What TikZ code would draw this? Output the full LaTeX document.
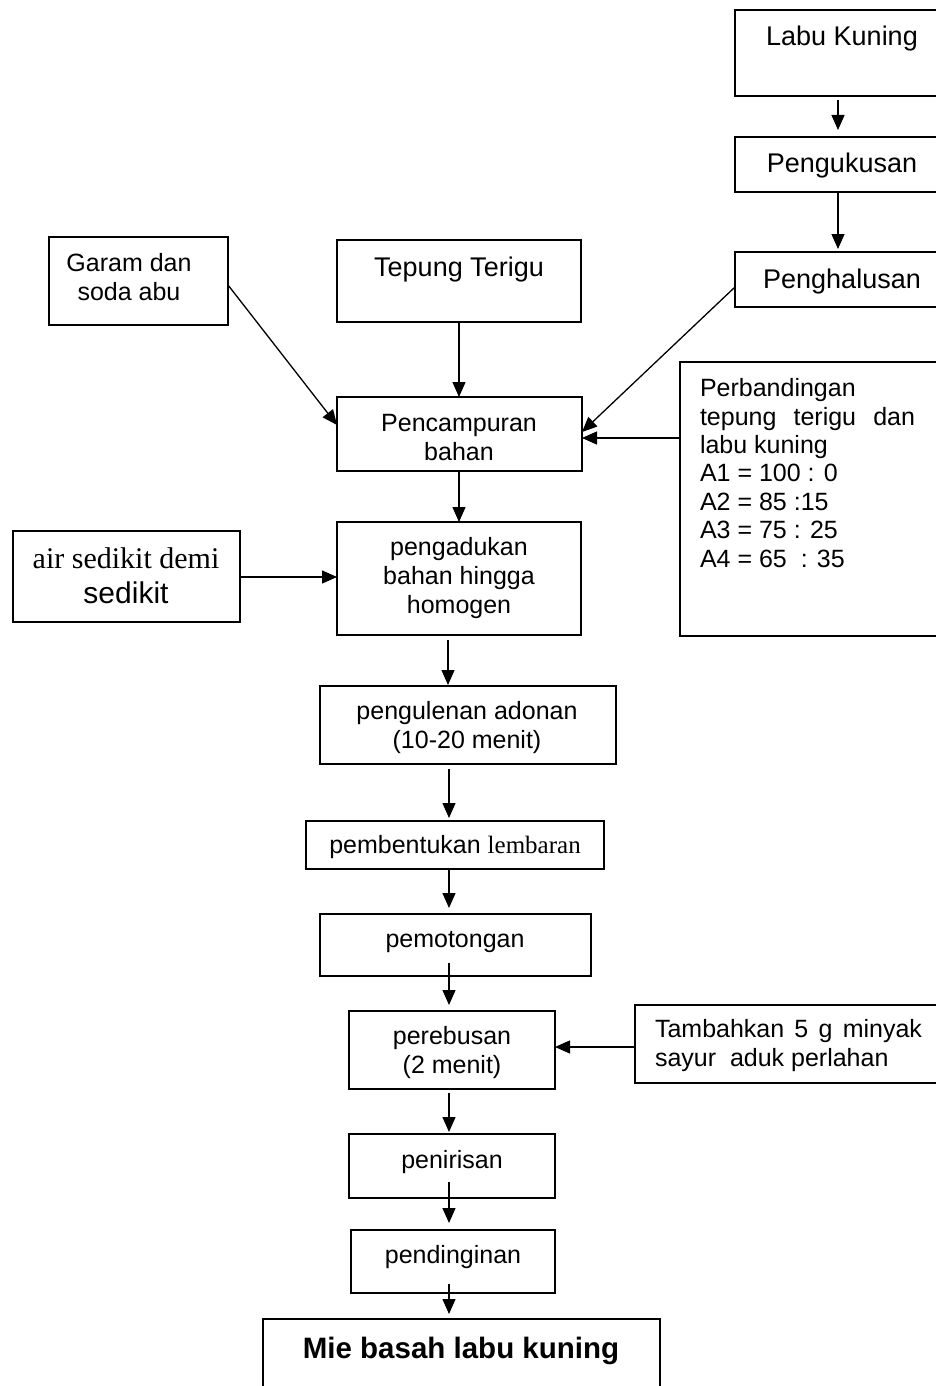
\documentclass[tikz,border=0pt]{standalone}
\usepackage{fontspec}
\setmainfont{Liberation Sans}
\newfontfamily\tnr{Liberation Serif}
\usetikzlibrary{arrows.meta}
\newcommand\fa{\fontsize{25}{28.5}\selectfont}
\newcommand\fb{\fontsize{27}{31}\selectfont}
\newcommand\fc{\fontsize{30}{35}\selectfont}
\newcommand\mybox[5]{\node[box, minimum width={(#4)-(#2)}, minimum height={(#5)-(#3)}] (#1) at ({((#2)+(#4))/2},{((#3)+(#5))/2}) {};}
\begin{document}
\begin{tikzpicture}[x=1pt,y=-1pt,
  box/.style={draw=black, line width=1.5pt, rectangle, inner sep=0pt, outer sep=0pt},
  txt/.style={inner sep=0pt, outer sep=0pt, font=\fa, align=center, anchor=base},
  arr/.style={line width=1.3pt, -{Triangle[length=15pt,width=13pt]}}]
\useasboundingbox[fill=white] (0,0) rectangle (936,1386);
% boxes
\mybox{lk}{735}{10}{942}{96}
\mybox{pk}{735}{137}{942}{192}
\mybox{ph}{735}{252}{942}{307}
\mybox{gr}{49}{237}{228}{325}
\mybox{tt}{337}{240}{581}{322}
\mybox{pc}{337}{397}{582}{471}
\mybox{pb}{680}{362}{942}{636}
\mybox{pa}{337}{522}{581}{635}
\mybox{air}{13}{531}{240}{622}
\mybox{pu}{320}{686}{616}{764}
\mybox{pl}{306}{821}{604}{869}
\mybox{pt}{320}{914}{591}{976}
\mybox{pr}{349}{1011}{555}{1089}
\mybox{tb}{635}{1005}{942}{1083}
\mybox{pn}{349}{1134}{555}{1198}
\mybox{pd}{351}{1230}{555}{1293}
\mybox{mb}{263}{1319}{660}{1400}
% texts (anchor = baseline of the last line)
\node[txt, font=\fb] (lkT) at (842,46) {Labu Kuning};
\node[txt, font=\fb] (pkT) at (842,172) {Pengukusan};
\node[txt, font=\fb] (phT) at (842,288) {Penghalusan};
\node[txt, font=\fontsize{25}{29}\selectfont] (grT) at (129,300) {Garam dan\\soda abu};
\node[txt, font=\fb] (ttT) at (459,276) {Tepung Terigu};
\node[txt] (pcT) at (459,460) {Pencampuran\\bahan};
\node[txt, align=left, anchor=base west, font=\fontsize{25}{28.4}\selectfont] (pbT) at (700,567)
  {Perbandingan\\\makebox[215pt][s]{tepung terigu dan}\\labu kuning\\A1 = 100 : 0\\A2 = 85 :15\\A3 = 75 : 25\\A4 = 65\ \ : 35};
\node[txt, font=\fontsize{25}{29}\selectfont] (paT) at (459,613) {pengadukan\\bahan hingga\\homogen};
\node[txt, font=\fc] (airT) at (126,603) {{\tnr air sedikit demi}\\sedikit};
\node[txt] (puT) at (467,748) {pengulenan adonan\\(10-20 menit)};
\node[txt] (plT) at (455,853) {pembentukan {\tnr lembaran}};
\node[txt] (ptT) at (455,947) {pemotongan};
\node[txt, font=\fontsize{25}{29}\selectfont] (prT) at (452,1073) {perebusan\\(2 menit)};
\node[txt, align=left, anchor=base west] (tbT) at (655,1066)
  {\makebox[267pt][s]{Tambahkan 5 g minyak}\\sayur\ \ aduk perlahan};
\node[txt] (pnT) at (452,1168) {penirisan};
\node[txt] (pdT) at (453,1263) {pendinginan};
\node[txt, font=\fontsize{29.5}{34}\selectfont\bfseries] (mbT) at (461,1358) {Mie basah labu kuning};
% connectors
\draw[arr, shorten <=4pt, shorten >=7pt] (lk.south -| 838,0) -- (pk.north -| 838,0);
\draw[arr, shorten >=3pt] (pk.south -| 838,0) -- (ph.north -| 838,0);
\draw[arr] (gr.east |- 0,285) -- (pc.west |- 0,425);
\draw[arr] (tt.south -| 459,0) -- (pc.north -| 459,0);
\draw[arr] (ph.west |- 0,287) -- (pc.east |- 0,432);
\draw[arr] (pb.west |- 0,438) -- (pc.east |- 0,438);
\draw[arr] (pc.south -| 459,0) -- (pa.north -| 459,0);
\draw[arr] (air.east |- 0,577) -- (pa.west |- 0,577);
\draw[arr, shorten <=5pt, shorten >=1pt] (pa.south -| 448,0) -- (pu.north -| 448,0);
\draw[arr, shorten <=5pt, shorten >=3pt] (pu.south -| 449,0) -- (pl.north -| 449,0);
\draw[arr, shorten <=-1pt, shorten >=6pt] (pl.south -| 449,0) -- (pt.north -| 449,0);
\draw[arr, shorten <=-13pt, shorten >=6pt] (pt.south -| 449,0) -- (pr.north -| 449,0);
\draw[arr] (tb.west |- 0,1047) -- (pr.east |- 0,1047);
\draw[arr, shorten <=4pt, shorten >=2pt] (pr.south -| 449,0) -- (pn.north -| 449,0);
\draw[arr, shorten <=-16pt, shorten >=7pt] (pn.south -| 449,0) -- (pd.north -| 449,0);
\draw[arr, shorten <=-9pt, shorten >=5pt] (pd.south -| 449,0) -- (mb.north -| 449,0);
\end{tikzpicture}
\end{document}
